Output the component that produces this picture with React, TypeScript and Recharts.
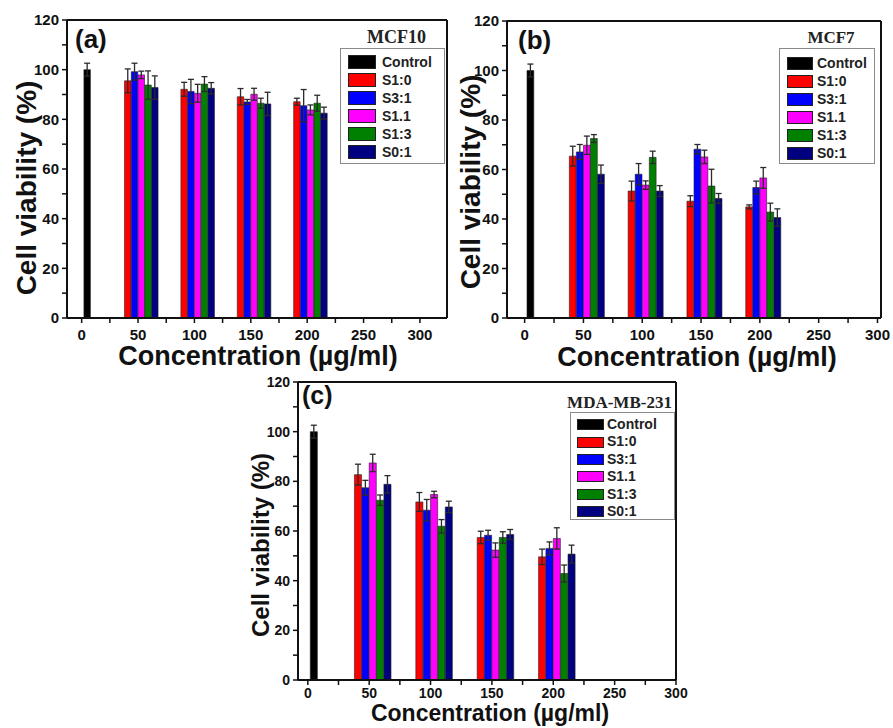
import React from 'react';
import {
  ComposedChart,
  Bar,
  XAxis,
  YAxis,
  ErrorBar,
  Cell,
  ReferenceLine,
  Legend,
  Customized,
} from 'recharts';

// ---------- data ----------
const seriesNames = ['Control', 'S1:0', 'S3:1', 'S1.1', 'S1:3', 'S0:1'];
const seriesColors = ['#000000', '#ff0000', '#0000ff', '#ff00ff', '#008000', '#000080'];
const concentrations = [50, 100, 150, 200];
const barOffsets = [-9, -3, 3, 9, 15];
const controlPosition = 5;
const xTickValues = [0, 25, 50, 75, 100, 125, 150, 175, 200, 225, 250, 275, 300];
const yTickValues = [0, 10, 20, 30, 40, 50, 60, 70, 80, 90, 100, 110, 120];

// MCF10
const mcf10Control = 100;
const mcf10ControlErr = 2.6;
const mcf10Values = [
  [95.5, 92.1, 89.1, 87.1],
  [99.2, 91.2, 87.0, 85.5],
  [97.9, 90.5, 90.1, 83.8],
  [93.8, 94.2, 86.5, 86.5],
  [92.8, 92.5, 86.2, 82.5],
];
const mcf10Errors = [
  [4.8, 2.8, 3.3, 1.4],
  [3.4, 4.9, 1.0, 6.5],
  [1.5, 3.6, 2.4, 2.0],
  [5.7, 3.0, 2.0, 3.2],
  [4.7, 2.3, 4.7, 2.4],
];

// MCF7
const mcf7Control = 100;
const mcf7ControlErr = 2.6;
const mcf7Values = [
  [65.4, 51.3, 47.2, 44.9],
  [67.1, 58.1, 68.2, 52.7],
  [69.8, 53.7, 65.1, 56.6],
  [72.5, 64.9, 53.3, 42.8],
  [58.1, 51.3, 48.3, 40.6],
];
const mcf7Errors = [
  [4.0, 4.0, 2.2, 0.8],
  [3.0, 4.3, 1.9, 2.6],
  [3.7, 1.7, 2.7, 4.2],
  [1.6, 2.5, 6.8, 3.6],
  [3.7, 2.2, 2.0, 3.5],
];

// MDA-MB-231
const mdaControl = 100;
const mdaControlErr = 2.6;
const mdaValues = [
  [82.7, 71.7, 57.4, 49.6],
  [77.4, 68.4, 58.3, 53.0],
  [87.4, 74.7, 52.3, 57.0],
  [72.4, 61.9, 57.4, 42.9],
  [78.8, 69.7, 58.6, 50.7],
];
const mdaErrors = [
  [4.2, 3.8, 2.5, 3.1],
  [3.0, 4.3, 2.0, 2.6],
  [3.5, 1.3, 2.9, 4.3],
  [2.1, 2.7, 2.3, 3.4],
  [3.5, 2.3, 2.0, 3.6],
];

// ---------- helpers ----------
type Row = { x: number; v: number; e: number; s: number };

function buildRows(control: number, controlErr: number, values: number[][], errors: number[][]): Row[] {
  const rows: Row[] = [{ x: controlPosition, v: control, e: controlErr, s: 0 }];
  concentrations.forEach((c, ci) => {
    values.forEach((arr, si) => {
      rows.push({ x: c + barOffsets[si], v: arr[ci], e: errors[si][ci], s: si + 1 });
    });
  });
  return rows;
}

const SANS = "'Liberation Sans', Arial, Helvetica, sans-serif";
const SERIF = "'Liberation Serif', 'Times New Roman', serif";
const INK = '#111111';

type LegendGeom = {
  left: number; top: number; width: number; titleHeight: number; titleSize: number; titleShift: number;
  boxHeight: number; padTop: number; rowH: number; swLeft: number; swW: number; swH: number; textLeft: number; textSize: number;
};

function makeLegend(title: string, g: LegendGeom) {
  return () => (
    <div style={{ width: g.width, fontFamily: SANS }}>
      <div
        style={{
          height: g.titleHeight,
          lineHeight: g.titleHeight + 'px',
          fontFamily: SERIF,
          fontWeight: 700,
          fontSize: g.titleSize,
          color: '#222',
          textAlign: 'center',
          position: 'relative',
          left: g.titleShift,
          whiteSpace: 'nowrap',
        }}
      >
        {title}
      </div>
      <div
        style={{
          position: 'relative',
          height: g.boxHeight,
          border: '1.5px solid #8a8a8a',
          boxSizing: 'border-box',
          background: '#fff',
        }}
      >
        {seriesNames.map((name, i) => {
          const cy = g.padTop + g.rowH * i + g.rowH / 2;
          return (
            <React.Fragment key={name}>
              <div
                style={{
                  position: 'absolute',
                  left: g.swLeft,
                  top: cy - g.swH / 2,
                  width: g.swW,
                  height: g.swH,
                  background: seriesColors[i],
                  border: '1px solid #222',
                  boxSizing: 'border-box',
                }}
              />
              <div
                style={{
                  position: 'absolute',
                  left: g.textLeft,
                  top: cy - g.rowH / 2,
                  height: g.rowH,
                  lineHeight: g.rowH + 'px',
                  fontSize: g.textSize,
                  fontWeight: 700,
                  color: '#222',
                  whiteSpace: 'nowrap',
                }}
              >
                {name}
              </div>
            </React.Fragment>
          );
        })}
      </div>
    </div>
  );
}

type PanelProps = {
  left: number; top: number; width: number; height: number;
  margin: { top: number; right: number; bottom: number; left: number };
  yAxisWidth: number; xAxisHeight: number;
  domain: [number, number];
  rows: Row[];
  tickSize: number; xTickMargin: number;
  letter: string; letterX: number; letterY: number; letterSize: number;
  yTitleX: number; yTitleY: number; yTitleSize: number;
  xTitleX: number; xTitleY: number; xTitleSize: number;
  legendTitle: string; legend: LegendGeom;
};

function Panel(p: PanelProps) {
  const plotW = p.width - p.margin.left - p.margin.right - p.yAxisWidth;
  const pxPerUnit = plotW / (p.domain[1] - p.domain[0]);
  const barSize = Math.floor(6 * pxPerUnit * 10) / 10 - 0.2;
  const LegendContent = makeLegend(p.legendTitle, p.legend);
  const Texts = () => (
    <g>
      <text x={p.letterX} y={p.letterY} fontFamily={SANS} fontWeight={700} fontSize={p.letterSize} fill={INK}>
        {p.letter}
      </text>
      <text
        x={p.yTitleX}
        y={p.yTitleY}
        transform={`rotate(-90 ${p.yTitleX} ${p.yTitleY})`}
        textAnchor="middle"
        dominantBaseline="central"
        fontFamily={SANS}
        fontWeight={700}
        fontSize={p.yTitleSize}
        fill={INK}
      >
        Cell viability (%)
      </text>
      <text x={p.xTitleX} y={p.xTitleY} textAnchor="middle" fontFamily={SANS} fontWeight={700} fontSize={p.xTitleSize} fill={INK}>
        Concentration (µg/ml)
      </text>
    </g>
  );
  const tickStyle = { fontSize: p.tickSize, fontWeight: 700, fill: INK, fontFamily: SANS };
  return (
    <div style={{ position: 'absolute', left: p.left, top: p.top, width: p.width, height: p.height }}>
      <ComposedChart width={p.width} height={p.height} data={p.rows} margin={p.margin}>
        <XAxis
          dataKey="x"
          type="number"
          domain={p.domain}
          allowDataOverflow
          ticks={xTickValues}
          interval={0}
          tickFormatter={(v: number) => (v % 50 === 0 ? String(v) : '')}
          tickSize={5}
          tickMargin={p.xTickMargin}
          tickLine={{ stroke: INK, strokeWidth: 1.5 }}
          axisLine={{ stroke: INK, strokeWidth: 2 }}
          tick={tickStyle}
          height={p.xAxisHeight}
        />
        <YAxis
          type="number"
          domain={[0, 120]}
          allowDataOverflow
          ticks={yTickValues}
          interval={0}
          tickFormatter={(v: number) => (v % 20 === 0 ? String(v) : '')}
          tickSize={5}
          tickMargin={3}
          tickLine={{ stroke: INK, strokeWidth: 1.5 }}
          axisLine={{ stroke: INK, strokeWidth: 2 }}
          tick={tickStyle}
          width={p.yAxisWidth}
        />
        <ReferenceLine y={120} stroke={INK} strokeWidth={2} />
        <ReferenceLine x={p.domain[1]} stroke={INK} strokeWidth={2} />
        <Bar dataKey="v" barSize={barSize} isAnimationActive={false} stroke="#222" strokeWidth={0.6}>
          {p.rows.map((r, i) => (
            <Cell key={i} fill={seriesColors[r.s]} />
          ))}
          <ErrorBar dataKey="e" direction="y" width={3} stroke="#2a2a2a" strokeWidth={1.3} isAnimationActive={false} />
        </Bar>
        <Legend
          layout="vertical"
          align="center"
          verticalAlign="middle"
          content={LegendContent}
          wrapperStyle={{ left: p.legend.left, top: p.legend.top, width: p.legend.width }}
        />
        <Customized component={Texts} />
      </ComposedChart>
    </div>
  );
}

const rowsA = buildRows(mcf10Control, mcf10ControlErr, mcf10Values, mcf10Errors);
const rowsB = buildRows(mcf7Control, mcf7ControlErr, mcf7Values, mcf7Errors);
const rowsC = buildRows(mdaControl, mdaControlErr, mdaValues, mdaErrors);

export default function App() {
  return (
    <div style={{ position: 'absolute', left: 0, top: 0, width: 893, height: 728, background: '#fff', overflow: 'hidden' }}>
      <Panel
        left={0}
        top={0}
        width={450}
        height={372}
        margin={{ top: 20, right: 3, bottom: 24, left: 0 }}
        yAxisWidth={67}
        xAxisHeight={30}
        domain={[-13, 324]}
        rows={rowsA}
        tickSize={15}
        xTickMargin={6}
        letter="(a)"
        letterX={75}
        letterY={48}
        letterSize={26}
        yTitleX={26}
        yTitleY={188}
        yTitleSize={28}
        xTitleX={258}
        xTitleY={365}
        xTitleSize={27}
        legendTitle="MCF10"
        legend={{ left: 340, top: 27, width: 105, titleHeight: 21, titleSize: 18, titleShift: 4, boxHeight: 116, padTop: 4, rowH: 18, swLeft: 7, swW: 28, swH: 14, textLeft: 41, textSize: 14 }}
      />
      <Panel
        left={440}
        top={0}
        width={453}
        height={372}
        margin={{ top: 21, right: 12, bottom: 24, left: 0 }}
        yAxisWidth={67}
        xAxisHeight={30}
        domain={[-15, 303]}
        rows={rowsB}
        tickSize={15}
        xTickMargin={6}
        letter="(b)"
        letterX={78}
        letterY={49}
        letterSize={26}
        yTitleX={30}
        yTitleY={182}
        yTitleSize={28}
        xTitleX={257}
        xTitleY={366}
        xTitleSize={27}
        legendTitle="MCF7"
        legend={{ left: 339, top: 28, width: 96, titleHeight: 20, titleSize: 17, titleShift: 4, boxHeight: 116, padTop: 5, rowH: 18, swLeft: 7, swW: 26, swH: 13, textLeft: 37, textSize: 14 }}
      />
      <Panel
        left={230}
        top={362}
        width={460}
        height={366}
        margin={{ top: 20, right: 14, bottom: 18, left: 0 }}
        yAxisWidth={68}
        xAxisHeight={30}
        domain={[-8, 300]}
        rows={rowsC}
        tickSize={14}
        xTickMargin={3}
        letter="(c)"
        letterX={72}
        letterY={42}
        letterSize={25}
        yTitleX={30}
        yTitleY={183}
        yTitleSize={24}
        xTitleX={260}
        xTitleY={359}
        xTitleSize={23}
        legendTitle="MDA-MB-231"
        legend={{ left: 340, top: 31, width: 105, titleHeight: 19, titleSize: 17, titleShift: -3, boxHeight: 108, padTop: 3, rowH: 17.4, swLeft: 6, swW: 27, swH: 11, textLeft: 36, textSize: 14 }}
      />
    </div>
  );
}
